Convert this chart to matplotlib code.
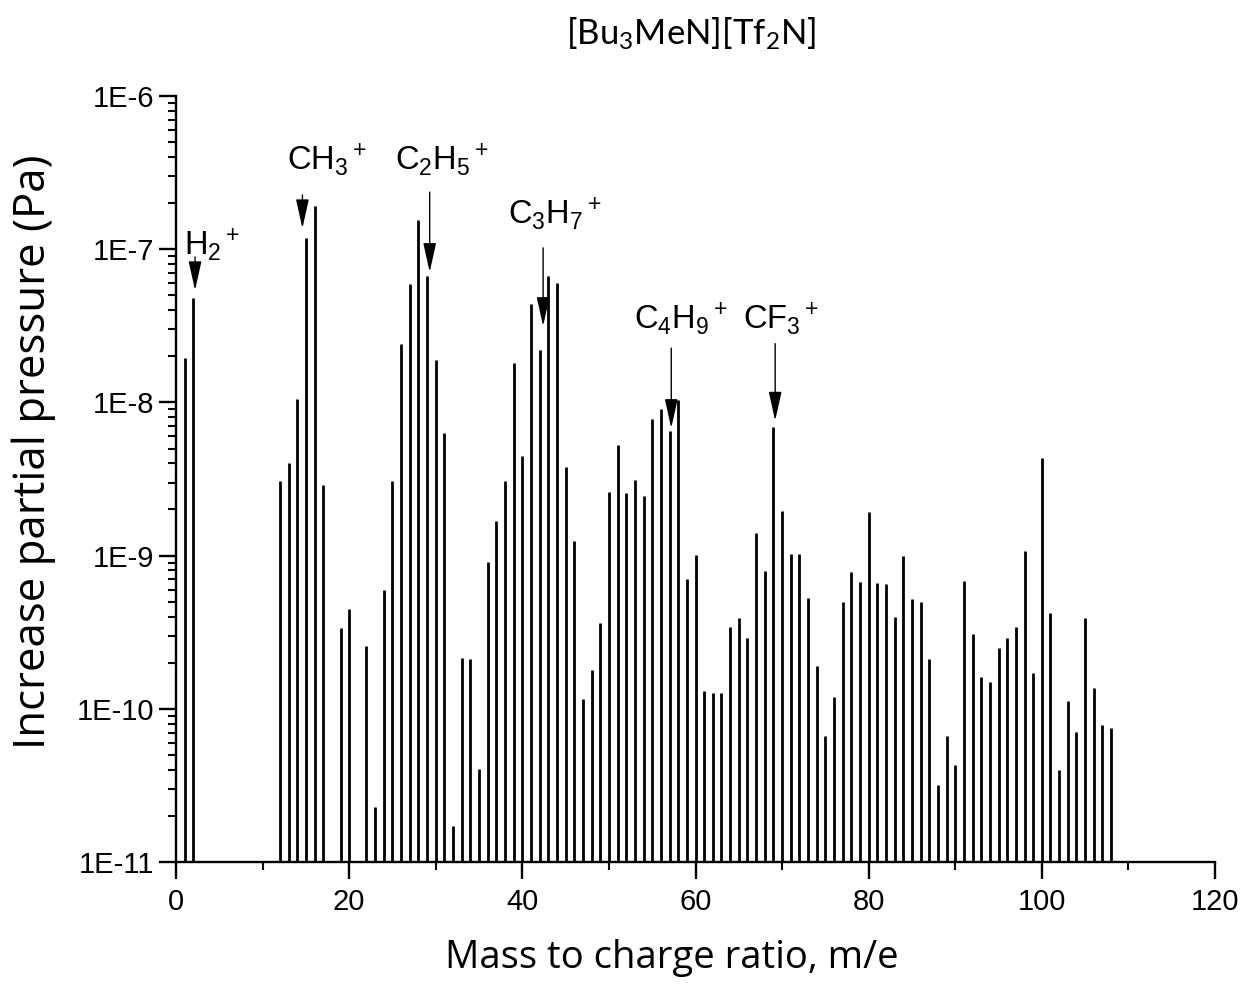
import numpy as np
import matplotlib
matplotlib.use("Agg")
import matplotlib.pyplot as plt
from matplotlib.ticker import MultipleLocator, LogLocator, FuncFormatter, NullFormatter

# m/e values and increase in partial pressure (Pa)
mass = [1, 2, 12, 13, 14, 15, 16, 17, 19, 20, 22, 23, 24, 25, 26, 27, 28, 29, 30,
        31, 32, 33, 34, 35, 36, 37, 38, 39, 40, 41, 42, 43, 44, 45, 46, 47, 48, 49,
        50, 51, 52, 53, 54, 55, 56, 57, 58, 59, 60, 61, 62, 63, 64, 65, 66, 67, 68,
        69, 70, 71, 72, 73, 74, 75, 76, 77, 78, 79, 80, 81, 82, 83, 84, 85, 86, 87,
        88, 89, 90, 91, 92, 93, 94, 95, 96, 97, 98, 99, 100, 101, 102, 103, 104,
        105, 106, 107, 108]
pressure = [1.94e-8, 4.8e-8, 3.08e-9, 4.03e-9, 1.05e-8, 1.18e-7, 1.9e-7, 2.9e-9,
            3.35e-10, 4.45e-10, 2.58e-10, 2.3e-11, 6.0e-10, 3.08e-9, 2.4e-8, 5.9e-8,
            1.56e-7, 6.7e-8, 1.89e-8, 6.3e-9, 1.71e-11, 2.14e-10, 2.1e-10, 4.05e-11,
            9.1e-10, 1.67e-9, 3.08e-9, 1.81e-8, 4.45e-9, 4.4e-8, 2.2e-8, 6.7e-8,
            6.0e-8, 3.77e-9, 1.25e-9, 1.16e-10, 1.8e-10, 3.64e-10, 2.6e-9, 5.3e-9,
            2.55e-9, 3.1e-9, 2.45e-9, 7.8e-9, 9.0e-9, 6.5e-9, 1.04e-8, 7.0e-10,
            1.01e-9, 1.3e-10, 1.27e-10, 1.26e-10, 3.4e-10, 3.9e-10, 2.9e-10, 1.4e-9,
            7.9e-10, 6.9e-9, 1.95e-9, 1.03e-9, 1.03e-9, 5.3e-10, 1.9e-10, 6.6e-11,
            1.19e-10, 5.0e-10, 7.8e-10, 6.7e-10, 1.94e-9, 6.6e-10, 6.5e-10, 3.95e-10,
            1.0e-9, 5.2e-10, 5.0e-10, 2.1e-10, 3.2e-11, 6.6e-11, 4.3e-11, 6.8e-10,
            3.1e-10, 1.62e-10, 1.5e-10, 2.5e-10, 2.9e-10, 3.4e-10, 1.07e-9, 1.7e-10,
            4.35e-9, 4.2e-10, 4.0e-11, 1.12e-10, 7.1e-11, 3.9e-10, 1.36e-10, 7.8e-11,
            7.5e-11]

# fragment labels: text, text x, text y, arrow x, arrow tail, arrow tip
ion_labels = [r"H$_2{}^+$", r"CH$_3{}^+$", r"C$_2$H$_5{}^+$", r"C$_3$H$_7{}^+$",
              r"C$_4$H$_9{}^+$", r"CF$_3{}^+$"]
label_x = [0.9, 12.8, 25.3, 38.3, 52.9, 65.5]
label_y = [9.2e-8, 3.29e-7, 3.29e-7, 1.46e-7, 3.01e-8, 3.01e-8]
arrow_x = [2.2, 14.6, 29.3, 42.4, 57.2, 69.2]
arrow_tail = [8.9e-8, 2.26e-7, 2.36e-7, 1.02e-7, 2.26e-8, 2.42e-8]
arrow_tip = [5.4e-8, 1.37e-7, 7.1e-8, 3.15e-8, 6.8e-9, 7.6e-9]

plt.rcParams["font.family"] = ["Liberation Sans", "DejaVu Sans"]
plt.rcParams["mathtext.fontset"] = "custom"
plt.rcParams["mathtext.rm"] = "Liberation Sans"
plt.rcParams["mathtext.it"] = "Liberation Sans"
plt.rcParams["mathtext.default"] = "regular"

fig = plt.figure(figsize=(12.55, 9.84), dpi=100)
ax = fig.add_axes([176 / 1255, 1 - 862 / 984, 1039 / 1255, 766 / 984])

ymin = 1e-11
ax.vlines(mass, ymin, pressure, colors="black", linewidth=2.0)

ax.set_yscale("log")
ax.set_ylim(1e-11, 1e-6)
ax.set_xlim(0, 120)

ax.spines["top"].set_visible(False)
ax.spines["right"].set_visible(False)
for s in ("left", "bottom"):
    ax.spines[s].set_linewidth(1.7)

ax.xaxis.set_major_locator(MultipleLocator(20))
ax.xaxis.set_minor_locator(MultipleLocator(10))
ax.yaxis.set_major_locator(LogLocator(base=10, numticks=10))
ax.yaxis.set_minor_locator(LogLocator(base=10, subs=np.arange(2, 10), numticks=20))
ax.yaxis.set_minor_formatter(NullFormatter())
ax.yaxis.set_major_formatter(FuncFormatter(lambda v, p: "1E%d" % int(round(np.log10(v)))))

ax.tick_params(which="major", direction="out", length=12, width=1.7, labelsize=21)
ax.tick_params(which="minor", direction="out", length=6, width=1.5)
ax.tick_params(axis="x", which="major", pad=7)
ax.tick_params(axis="y", which="major", pad=4)

for txt, tx, ty, axx, tail, tip in zip(ion_labels, label_x, label_y, arrow_x, arrow_tail, arrow_tip):
    ax.text(tx, ty, txt, fontsize=23.5, ha="left", va="baseline")
    ax.annotate("", xy=(axx, tip), xytext=(axx, tail),
                arrowprops=dict(arrowstyle="-|>,head_length=0.9,head_width=0.2",
                                color="black", lw=1.0, shrinkA=0, shrinkB=0,
                                mutation_scale=20))

fig.text(0.5355, 0.026, "Mass to charge ratio, m/e", fontsize=27.5,
         family=["Open Sans", "DejaVu Sans"], ha="center", va="center")
fig.text(0.027, 0.5407, "Increase partial pressure (Pa)", fontsize=31.5, rotation=90,
         family=["Open Sans", "DejaVu Sans"], ha="center", va="center")
fig.text(0.551, 0.966, r"[Bu$_3$MeN][Tf$_2$N]", fontsize=25,
         family=["Lato", "DejaVu Sans"], ha="center", va="center")

fig.savefig("out.png", dpi=100)
